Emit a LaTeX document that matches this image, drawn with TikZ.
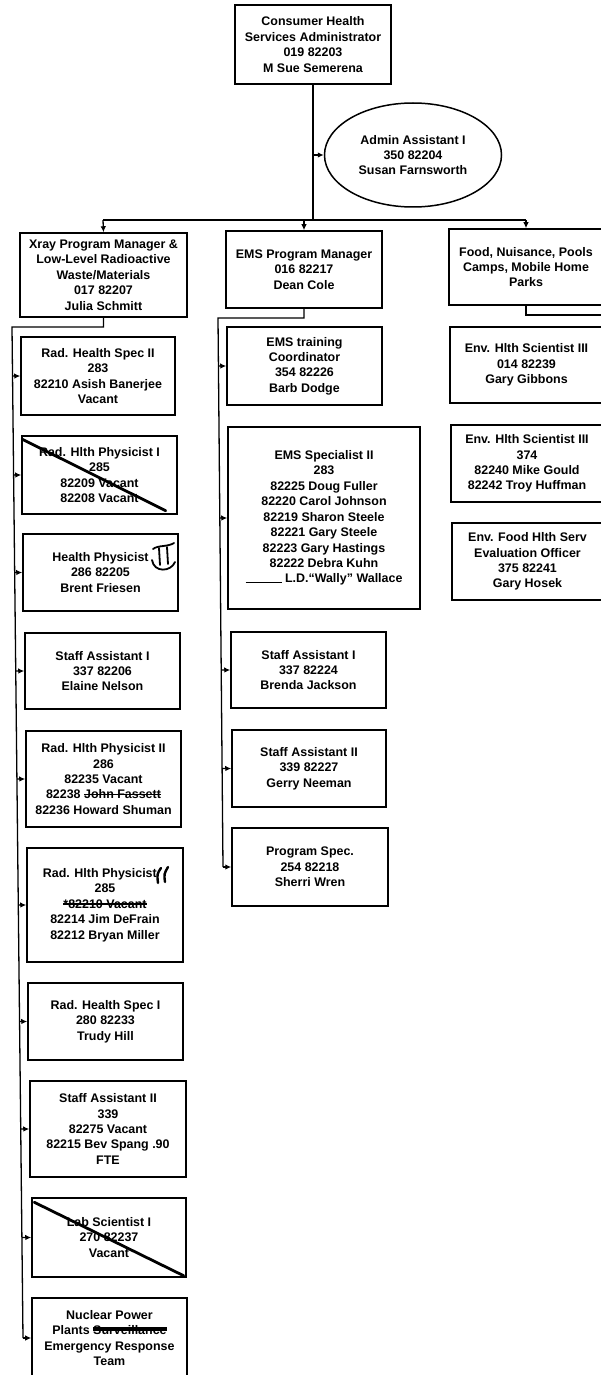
\documentclass[tikz,border=0pt]{standalone}
\usepackage{fontspec}
\setmainfont{Liberation Sans}
\usepackage{xcolor}
\usepackage{tikz}
\usetikzlibrary{
    shapes.geometric,
    arrows.meta,
    positioning,
    calc
}

\newsavebox{\strikeBox}
\newcommand{\struck}[2][1.3pt]{%
    \sbox{\strikeBox}{#2}\rlap{\usebox{\strikeBox}}\rule[0.28em]{\wd\strikeBox}{#1}}

\begin{document}
\begin{tikzpicture}[
    x=1bp, y=-1bp,
    orgBox/.style={
        rectangle, draw=black, line width=1.5bp,
        fill=white, text=black,
        font=\fontsize{12.5}{15.5}\selectfont\bfseries,
        align=center, inner sep=0pt
    },
    orgOval/.style={
        ellipse, draw=black, line width=1.5bp,
        fill=white, text=black,
        font=\fontsize{12.5}{15.5}\selectfont\bfseries,
        align=center, inner sep=0pt
    },
    bus/.style={
        draw=black, line width=1.3bp
    },
    feed/.style={
        -{Latex[length=6bp,width=5.5bp]}, line width=1.3bp, draw=black
    },
    crossOut/.style={
        draw=black, line width=2.8bp, line cap=round
    },
    penMark/.style={
        draw=black, line width=1.8bp, line cap=round
    }
]

    % Page
    \useasboundingbox (0,0) rectangle (601,1375);
    \fill[white] (0,0) rectangle (601,1375);
    \clip (0,0) rectangle (601,1375);

    % Administrator and assistant
    \node[orgBox, minimum width=156bp, minimum height=79bp] (hAdmin) at (313,44.5)
        {Consumer Health\\Services Administrator\\019 82203\\M Sue Semerena};
    \node[orgOval, minimum width=177bp, minimum height=104bp] (nAsst) at (413,155)
        {Admin Assistant I\\350 82204\\Susan Farnsworth};

    % Program heads
    \node[orgBox, minimum width=167bp, minimum height=84bp] (hXray) at (103.5,275)
        {Xray Program Manager \&\\Low-Level Radioactive\\Waste/Materials\\017 82207\\Julia Schmitt};
    \node[orgBox, minimum width=156bp, minimum height=77bp] (hEms) at (304,269.5)
        {EMS Program Manager\\016 82217\\Dean Cole};
    \node[orgBox, minimum width=154bp, minimum height=76bp] (hFood) at (526,267)
        {Food, Nuisance, Pools\\Camps, Mobile Home\\Parks};

    % Xray staff
    \node[orgBox, minimum width=154bp, minimum height=78bp] (xSpec2) at (98,376)
        {Rad. Health Spec II\\283\\82210 Asish Banerjee\\Vacant};
    \node[orgBox, minimum width=155bp, minimum height=78bp] (xPhys1) at (99.5,475)
        {Rad. Hlth Physicist I\\285\\82209 Vacant\\82208 Vacant};
    \node[orgBox, minimum width=155bp, minimum height=77bp] (xHPhys) at (100.5,572.5)
        {Health Physicist\\286 82205\\Brent Friesen};
    \node[orgBox, minimum width=155bp, minimum height=76bp] (xStaff1) at (102.5,671)
        {Staff Assistant I\\337 82206\\Elaine Nelson};
    \node[orgBox, minimum width=155bp, minimum height=96bp] (xPhys2) at (103.5,779)
        {Rad. Hlth Physicist II\\286\\82235 Vacant\\82238 \struck{John Fassett}\\82236 Howard Shuman};
    \node[orgBox, minimum width=156bp, minimum height=114bp] (xPhys3) at (105,905)
        {Rad. Hlth Physicist\hphantom{ II}\\285\\\struck{*82210 Vacant}\\82214 Jim DeFrain\\82212 Bryan Miller};
    \node[orgBox, minimum width=155bp, minimum height=77bp] (xSpec1) at (105.5,1021.5)
        {Rad. Health Spec I\\280 82233\\Trudy Hill};
    \node[orgBox, minimum width=156bp, minimum height=96bp] (xStaff2) at (108,1129)
        {Staff Assistant II\\339\\82275 Vacant\\82215 Bev Spang .90\\FTE};
    \node[orgBox, minimum width=154bp, minimum height=79bp] (xLab) at (109,1237.5)
        {Lab Scientist I\\270 82237\\Vacant};
    \node[orgBox, minimum width=155bp, minimum height=80bp] (xNuke) at (109.5,1338)
        {Nuclear Power\\Plants \struck[4.5pt]{Surveillance}\\Emergency Response\\Team};

    % EMS staff
    \node[orgBox, minimum width=155bp, minimum height=78bp] (eTrain) at (304.5,366)
        {EMS training\\Coordinator\\354 82226\\Barb Dodge};
    \node[orgBox, minimum width=192bp, minimum height=182bp] (eSpec) at (324,518)
        {EMS Specialist II\\283\\82225 Doug Fuller\\82220 Carol Johnson\\82219 Sharon Steele\\82221 Gary Steele\\82223 Gary Hastings\\82222 Debra Kuhn\\\rule{36bp}{1pt} L.D.“Wally” Wallace};
    \node[orgBox, minimum width=155bp, minimum height=76bp] (eStaff1) at (308.5,670)
        {Staff Assistant I\\337 82224\\Brenda Jackson};
    \node[orgBox, minimum width=154bp, minimum height=77bp] (eStaff2) at (309,768.5)
        {Staff Assistant II\\339 82227\\Gerry Neeman};
    \node[orgBox, minimum width=156bp, minimum height=78bp] (eProg) at (310,867)
        {Program Spec.\\254 82218\\Sherri Wren};

    % Food staff
    \node[orgBox, minimum width=153bp, minimum height=76bp] (fSci1) at (526.5,365)
        {Env. Hlth Scientist III\\014 82239\\Gary Gibbons};
    \node[orgBox, minimum width=152bp, minimum height=77bp] (fSci2) at (527,463.5)
        {Env. Hlth Scientist III\\374\\82240 Mike Gould\\82242 Troy Huffman};
    \node[orgBox, minimum width=151bp, minimum height=77bp] (fEval) at (527.5,561.5)
        {Env. Food Hlth Serv\\Evaluation Officer\\375 82241\\Gary Hosek};

    % Bus points
    \coordinate (tBusL) at (103,220);
    \coordinate (tBusR) at (526,220);
    \coordinate (xBusT) at (12,327);
    \coordinate (xBusB) at (23,1338);
    \coordinate (eBusT) at (218,318);
    \coordinate (eBusB) at (223,867);
    \coordinate (fBusT) at (612,315);

    % Top links
    \draw[bus] (hAdmin.south) -- (hAdmin.south |- tBusL);
    \draw[bus] (tBusL) -- (tBusR);
    \draw[feed] (hAdmin.south |- nAsst.west) -- (nAsst.west);
    \draw[feed] (tBusL) -- (hXray.north);
    \draw[feed] (hEms.north |- tBusL) -- (hEms.north);
    \draw[feed] (tBusR) -- (hFood.north);

    % Xray links
    \draw[bus] (hXray.south) |- (xBusT) -- (xBusB);
    \draw[feed] ($(xBusT)!(xSpec2.west)!(xBusB)$) -- (xSpec2.west);
    \draw[feed] ($(xBusT)!(xPhys1.west)!(xBusB)$) -- (xPhys1.west);
    \draw[feed] ($(xBusT)!(xHPhys.west)!(xBusB)$) -- (xHPhys.west);
    \draw[feed] ($(xBusT)!(xStaff1.west)!(xBusB)$) -- (xStaff1.west);
    \draw[feed] ($(xBusT)!(xPhys2.west)!(xBusB)$) -- (xPhys2.west);
    \draw[feed] ($(xBusT)!(xPhys3.west)!(xBusB)$) -- (xPhys3.west);
    \draw[feed] ($(xBusT)!(xSpec1.west)!(xBusB)$) -- (xSpec1.west);
    \draw[feed] ($(xBusT)!(xStaff2.west)!(xBusB)$) -- (xStaff2.west);
    \draw[feed] ($(xBusT)!(xLab.west)!(xBusB)$) -- (xLab.west);
    \draw[feed] (xBusB) -- (xNuke.west);

    % EMS links
    \draw[bus] (hEms.south) |- (eBusT) -- (eBusB);
    \draw[feed] ($(eBusT)!(eTrain.west)!(eBusB)$) -- (eTrain.west);
    \draw[feed] ($(eBusT)!(eSpec.west)!(eBusB)$) -- (eSpec.west);
    \draw[feed] ($(eBusT)!(eStaff1.west)!(eBusB)$) -- (eStaff1.west);
    \draw[feed] ($(eBusT)!(eStaff2.west)!(eBusB)$) -- (eStaff2.west);
    \draw[feed] (eBusB) -- (eProg.west);

    % Food link (runs off the page)
    \draw[bus] (hFood.south) |- (fBusT);

    % Pen marks
    \draw[crossOut] ($(xPhys1.north west)+(1,4)$) -- ($(xPhys1.south east)+(-12,-4)$);
    \draw[crossOut] ($(xLab.north west)+(3,5)$) -- ($(xLab.south east)+(-3,-2)$);
    \draw[penMark] (153,549) .. controls (158,545) and (168,547) .. (174,543);
    \draw[penMark] (159,548) -- (160,565);
    \draw[penMark] (167,547) -- (168,564);
    \draw[penMark] (152,560) .. controls (154,573) and (171,572) .. (175,562);
    \draw[penMark, line width=2.4bp] (161,868) .. controls (157,874) .. (158,883);
    \draw[penMark, line width=2.4bp] (168,867) .. controls (164,874) .. (165,882);

\end{tikzpicture}
\end{document}
